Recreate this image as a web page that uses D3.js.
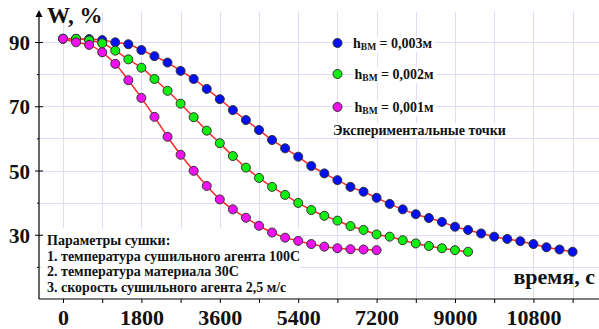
<!DOCTYPE html>
<html lang="ru">
<head>
<meta charset="UTF-8">
<title>W(t)</title>
<script src="https://d3js.org/d3.v7.min.js"></script>
<style>
  body {margin: 0; background: #fff;}
  text {font-family: "Liberation Serif", "DejaVu Serif", serif; font-weight: bold; fill: #111;}
</style>
</head>
<body>
<div id="chart"></div>
<script>
// Шаг измерений, с
var timeStep = 300;

// Экспериментальные точки W, %
var w003 = [91.0, 91.0, 90.9, 90.6, 89.9, 89.3, 87.5, 85.6, 83.6, 81.0,
            78.5, 75.4, 72.2, 68.8, 65.7, 62.6, 59.5, 56.9, 54.3, 51.4,
            49.1, 47.0, 44.9, 43.4, 41.5, 39.6, 37.9, 36.4, 35.2, 34.0,
            32.5, 31.5, 30.4, 29.4, 28.7, 28.0, 27.1, 26.1, 25.4, 24.7];
var w002 = [91.0, 91.0, 90.5, 89.6, 87.3, 84.6, 82.0, 78.5, 74.8, 70.8,
            66.6, 62.4, 58.5, 54.5, 50.9, 47.7, 44.9, 42.4, 39.9, 37.7,
            35.9, 34.4, 32.7, 31.5, 30.1, 29.4, 28.3, 27.3, 26.5, 25.8,
            25.2, 24.7];
var w001 = [91.0, 89.9, 89.1, 86.8, 83.2, 78.1, 72.6, 66.7, 60.5, 54.9,
            49.9, 45.2, 41.0, 37.9, 35.3, 32.8, 30.7, 29.1, 28.1, 27.1,
            26.3, 25.8, 25.5, 25.4, 25.2];

var seriesNames = ["0,003м", "0,002м", "0,001м"];
var seriesColors = ["#0010f0", "#10f010", "#f010f0"];

var xTickValues = [0, 900, 1800, 2700, 3600, 4500, 5400, 6300, 7200, 8100, 9000, 9900, 10800, 11700];
var xLabelValues = [0, 1800, 3600, 5400, 7200, 9000, 10800];
var yTickValues = [20, 30, 40, 50, 60, 70, 80, 90];
var yLabelValues = [30, 50, 70, 90];

var paramLines = ["Параметры сушки:",
                  "1. температура сушильного агента 100С",
                  "2. температура материала 30С",
                  "3. скорость сушильного агента 2,5 м/с"];

var width = 599, height = 329;

var svg = d3.select("#chart").append("svg")
    .attr("width", width)
    .attr("height", height);

// Scales
var x = d3.scaleLinear().domain([0, 11700]).range([63, 572.6]);
var y = d3.scaleLinear().domain([10, 90]).range([299, 42]);

var axisX = 39, axisY = 299, topY = 12;

// Grid
var grid = svg.append("g").attr("stroke", "#dedcf8").attr("stroke-width", 1);
grid.selectAll("line.v")
    .data(xTickValues)
    .enter().append("line")
    .attr("x1", function(d){ return Math.round(x(d)) + 0.5; })
    .attr("x2", function(d){ return Math.round(x(d)) + 0.5; })
    .attr("y1", topY)
    .attr("y2", axisY);
grid.selectAll("line.h")
    .data(yTickValues)
    .enter().append("line")
    .attr("x1", axisX)
    .attr("x2", width)
    .attr("y1", function(d){ return Math.round(y(d)) + 0.5; })
    .attr("y2", function(d){ return Math.round(y(d)) + 0.5; });

// Legend (white backgrounds cover the grid)
var legendY = [43, 74, 107];
var legend = svg.append("g");
seriesNames.forEach(function(name, i){
    var t = legend.append("text")
        .attr("x", 353 + (i > 0 ? 1.5 : 0))
        .attr("y", legendY[i] + 5)
        .attr("font-size", "14px");
    t.append("tspan").text("h");
    t.append("tspan").attr("font-size", "9.5px").attr("dy", 2).text("ВМ");
    t.append("tspan").attr("dy", -2).text(" = " + name);
    var bb = t.node().getBBox();
    legend.insert("rect", "text")
        .attr("x", bb.x - 2).attr("y", bb.y)
        .attr("width", bb.width + 4).attr("height", bb.height)
        .attr("fill", "#fff");
});
var expText = legend.append("text")
    .attr("x", 333).attr("y", 135)
    .attr("font-size", "14px")
    .text("Экспериментальные точки");
var eb = expText.node().getBBox();
legend.insert("rect", "text")
    .attr("x", eb.x - 2).attr("y", eb.y)
    .attr("width", eb.width + 4).attr("height", eb.height)
    .attr("fill", "#fff");

// Parameters block
svg.append("rect")
    .attr("x", 42).attr("y", 228)
    .attr("width", 258).attr("height", 69)
    .attr("fill", "#fff");
svg.append("g").selectAll("text")
    .data(paramLines)
    .enter().append("text")
    .attr("x", 47)
    .attr("y", function(d, i){ return 245 + i * 15.6; })
    .attr("font-size", "14px")
    .text(function(d){ return d; });

// Axes
var xAxis = d3.axisBottom(x)
    .tickValues(xTickValues)
    .tickSize(4)
    .tickFormat(function(d){ return xLabelValues.indexOf(d) >= 0 ? d : ""; });
var gx = svg.append("g")
    .attr("transform", "translate(0," + axisY + ")")
    .call(xAxis);
gx.select(".domain").remove();
gx.append("line")
    .attr("x1", axisX).attr("x2", width)
    .attr("stroke", "#000").attr("stroke-width", 1.2);
gx.selectAll(".tick line").attr("stroke", "#000");
gx.selectAll(".tick text")
    .attr("y", 26)
    .attr("dy", 0)
    .attr("font-size", "22px")
    .attr("font-family", "Liberation Serif, serif")
    .attr("font-weight", "bold")
    .attr("fill", "#111");

var yAxis = d3.axisLeft(y)
    .tickValues(yTickValues)
    .tickSize(0)
    .tickFormat(function(d){ return yLabelValues.indexOf(d) >= 0 ? d : ""; });
var gy = svg.append("g")
    .attr("transform", "translate(" + axisX + ",0)")
    .call(yAxis);
gy.select(".domain").remove();
gy.selectAll(".tick")
    .append("line")
    .attr("x1", function(d){ return yLabelValues.indexOf(d) >= 0 ? -4 : -2; })
    .attr("x2", function(d){ return yLabelValues.indexOf(d) >= 0 ? 4 : 0; })
    .attr("stroke", "#000");
gy.selectAll(".tick text")
    .attr("x", -9)
    .attr("dy", "0.36em")
    .attr("font-size", "21px")
    .attr("font-family", "Liberation Serif, serif")
    .attr("font-weight", "bold")
    .attr("fill", "#111");
svg.append("line")
    .attr("x1", axisX).attr("x2", axisX)
    .attr("y1", topY).attr("y2", axisY)
    .attr("stroke", "#000").attr("stroke-width", 1.2);
svg.append("path")
    .attr("d", "M" + axisX + "," + (topY - 2) + "l-3.5,7h7z")
    .attr("fill", "#000");

// Axis titles
svg.append("text")
    .attr("x", 47).attr("y", 23)
    .attr("font-size", "23px")
    .text("W, %");
svg.append("text")
    .attr("x", 595).attr("y", 284)
    .attr("text-anchor", "end")
    .attr("font-size", "22px")
    .text("время, с");

// Curves and points
var allSeries = [w003, w002, w001];
var line = d3.line()
    .x(function(d, i){ return x(i * timeStep); })
    .y(function(d){ return y(d); })
    .curve(d3.curveCatmullRom);

allSeries.forEach(function(s){
    svg.append("path")
        .datum(s)
        .attr("d", line)
        .attr("fill", "none")
        .attr("stroke", "#ff2a2a")
        .attr("stroke-width", 1.5);
});
allSeries.forEach(function(s, k){
    svg.append("g").selectAll("circle")
        .data(s)
        .enter().append("circle")
        .attr("cx", function(d, i){ return x(i * timeStep); })
        .attr("cy", function(d){ return y(d); })
        .attr("r", 4.5)
        .attr("fill", seriesColors[k])
        .attr("stroke", "#333")
        .attr("stroke-width", 1);
});

// Legend markers
legendY.forEach(function(ly, i){
    svg.append("circle")
        .attr("cx", 337.5).attr("cy", ly)
        .attr("r", 4.5)
        .attr("fill", seriesColors[i])
        .attr("stroke", "#333")
        .attr("stroke-width", 1);
});
</script>
</body>
</html>
